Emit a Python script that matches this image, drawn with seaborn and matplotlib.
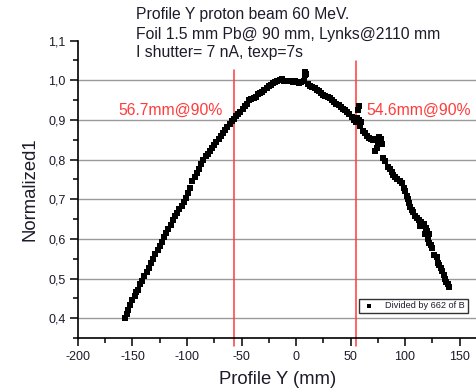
#!/usr/bin/env python3
"""Beam profile along Y, normalized, with 90 % crossing markers."""

import matplotlib
matplotlib.use("Agg")
import matplotlib.pyplot as plt
from matplotlib.ticker import FuncFormatter, MultipleLocator
import pandas as pd
import seaborn as sns


# Profile points (mm, normalized intensity)
PROFILE_MM = [
    -157, -155.5, -154, -152, -150, -148, -146.5, -145, -143, -141,
    -139, -137, -135, -133, -131, -129, -127, -125, -123, -121,
    -119, -117, -115, -113, -111, -109, -107, -105, -103, -101,
    -99, -97, -95, -93, -91, -89, -87, -85, -83, -81,
    -79, -77, -75, -73, -71, -69, -67, -65, -63, -61,
    -59, -57, -55, -53, -51, -49, -47, -45, -43, -41,
    -39, -37, -35, -33, -31, -29, -27, -25, -23, -21,
    -19, -17, -15, -13, -11, -9, -7, -5, -3, -1,
    1, 3, 5, 7, 8, 8.5, 9.5, 11, 13, 15,
    17, 19, 21, 23, 25, 27, 29, 31, 33, 35,
    37, 39, 41, 43, 45, 47, 49, 51, 53, 55,
    56, 57, 57.5, 58, 59, 60, 61, 63, 65, 67,
    69, 71, 73, 75, 76, 78, 79, 72, 74, 80,
    82, 84, 86, 88, 89, 91, 93, 95, 97, 99,
    100, 102, 103, 104, 105, 106, 107, 109, 111, 113,
    115, 114, 117, 119, 120, 122, 118, 121, 122, 124,
    125, 127, 129, 130, 131, 133, 134, 136, 137, 138,
    139, 140,
]
NORMALIZED = [
    0.400, 0.410, 0.420, 0.432, 0.445, 0.455, 0.466, 0.472, 0.485, 0.494,
    0.506, 0.517, 0.527, 0.540, 0.550, 0.561, 0.572, 0.583, 0.593, 0.604,
    0.616, 0.626, 0.636, 0.648, 0.657, 0.666, 0.676, 0.684, 0.693, 0.702,
    0.716, 0.728, 0.745, 0.757, 0.766, 0.777, 0.789, 0.800, 0.808, 0.815,
    0.822, 0.829, 0.836, 0.844, 0.851, 0.860, 0.867, 0.874, 0.882, 0.889,
    0.896, 0.903, 0.909, 0.914, 0.921, 0.928, 0.935, 0.941, 0.949, 0.953,
    0.955, 0.958, 0.965, 0.968, 0.970, 0.975, 0.981, 0.986, 0.989, 0.992,
    0.995, 0.998, 1.000, 1.002, 0.999, 0.998, 0.997, 0.998, 0.996, 0.997,
    0.995, 0.994, 0.996, 0.998, 1.012, 1.020, 1.015, 0.990, 0.986, 0.983,
    0.980, 0.975, 0.972, 0.968, 0.963, 0.960, 0.957, 0.954, 0.950, 0.945,
    0.941, 0.937, 0.933, 0.928, 0.925, 0.921, 0.915, 0.908, 0.900, 0.895,
    0.905, 0.925, 0.935, 0.900, 0.885, 0.895, 0.872, 0.866, 0.860, 0.855,
    0.852, 0.848, 0.851, 0.845, 0.858, 0.852, 0.840, 0.822, 0.830, 0.803,
    0.795, 0.782, 0.775, 0.768, 0.760, 0.757, 0.752, 0.745, 0.740, 0.727,
    0.720, 0.707, 0.700, 0.690, 0.680, 0.672, 0.667, 0.658, 0.653, 0.648,
    0.642, 0.632, 0.638, 0.628, 0.620, 0.612, 0.612, 0.600, 0.590, 0.585,
    0.578, 0.560, 0.555, 0.540, 0.535, 0.527, 0.520, 0.510, 0.500, 0.492,
    0.485, 0.478,
]

# 90 % crossings: (position, label, top of marker line)
CROSSINGS = [(-56.7, "56.7mm@90%", 1.026), (54.6, "54.6mm@90%", 1.048)]
TITLE_LINES = [
    "Profile Y proton beam 60 MeV.",
    "Foil 1.5 mm Pb@ 90 mm, Lynks@2110 mm",
    "I shutter= 7 nA, texp=7s",
]
LEGEND_LABEL = "Divided by 662 of B"

RED = "#ff3b3b"
TEXT = "#1c1c2a"


def comma(v, _pos):
    return f"{v:.1f}".replace(".", ",")


def main() -> None:
    df = pd.DataFrame({"y_mm": PROFILE_MM, "norm": NORMALIZED})

    sns.set_style("white")
    plt.rcParams["font.family"] = ["Liberation Sans", "DejaVu Sans"]
    plt.rcParams["axes.unicode_minus"] = False

    fig = plt.figure(figsize=(4.77, 3.91), dpi=100)
    ax = fig.add_axes([0.1635, 0.1355, 0.8365, 0.7609])

    sns.scatterplot(data=df, x="y_mm", y="norm", marker="s", color="black",
                    s=15, linewidth=0, label=LEGEND_LABEL, ax=ax, zorder=3)

    ax.set_xlim(-200, 166)
    ax.set_ylim(0.35, 1.1)
    ax.xaxis.set_major_locator(MultipleLocator(50))
    ax.xaxis.set_minor_locator(MultipleLocator(25))
    ax.yaxis.set_major_locator(MultipleLocator(0.1))
    ax.yaxis.set_minor_locator(MultipleLocator(0.05))
    ax.yaxis.set_major_formatter(FuncFormatter(comma))

    ax.tick_params(which="major", direction="out", length=6, width=1.1,
                   color="black", labelsize=9, labelcolor=TEXT, pad=3,
                   bottom=True, left=True)
    ax.tick_params(which="minor", direction="out", length=3.5, width=1.1,
                   color="black", bottom=True, left=True)

    ax.yaxis.grid(True, which="major", color="#9a9a9a", linewidth=1.0)
    ax.xaxis.grid(False)
    ax.set_axisbelow(True)
    for line in ax.get_ygridlines():
        if line.get_ydata()[0] > 1.05:
            line.set_visible(False)

    for side in ("top", "right"):
        ax.spines[side].set_visible(False)
    for side in ("left", "bottom"):
        ax.spines[side].set_color("black")
        ax.spines[side].set_linewidth(1.2)

    for pos, label, top in CROSSINGS:
        ax.plot([pos, pos], [0.33, top], color=RED, linewidth=1.1,
                clip_on=False, zorder=2)
        if pos < 0:
            ax.text(pos - 11, 0.925, label, color=RED, fontsize=11.3,
                    ha="right", va="center")
        else:
            ax.text(pos + 10, 0.925, label, color=RED, fontsize=11.3,
                    ha="left", va="center")

    ax.set_xlabel("Profile Y (mm)", fontsize=13.3, color=TEXT, labelpad=6)
    ax.set_ylabel("Normalized1", fontsize=13.3, color=TEXT, labelpad=7)

    for i, line in enumerate(TITLE_LINES):
        fig.text(0.285, 1 - (15 + 19 * i) / 391, line, fontsize=11.3,
                 color=TEXT, ha="left", va="center")

    leg = ax.legend(loc="lower right", bbox_to_anchor=(0.977, 0.084),
                    fontsize=6.6, frameon=True, fancybox=False,
                    borderpad=0.3, handletextpad=1.0, handlelength=1.6,
                    markerscale=0.8, borderaxespad=0)
    leg.get_frame().set_edgecolor("black")
    leg.get_frame().set_linewidth(1.0)
    for t in leg.get_texts():
        t.set_color(TEXT)

    fig.savefig("out.png", dpi=100)
    plt.close(fig)


if __name__ == "__main__":
    main()
